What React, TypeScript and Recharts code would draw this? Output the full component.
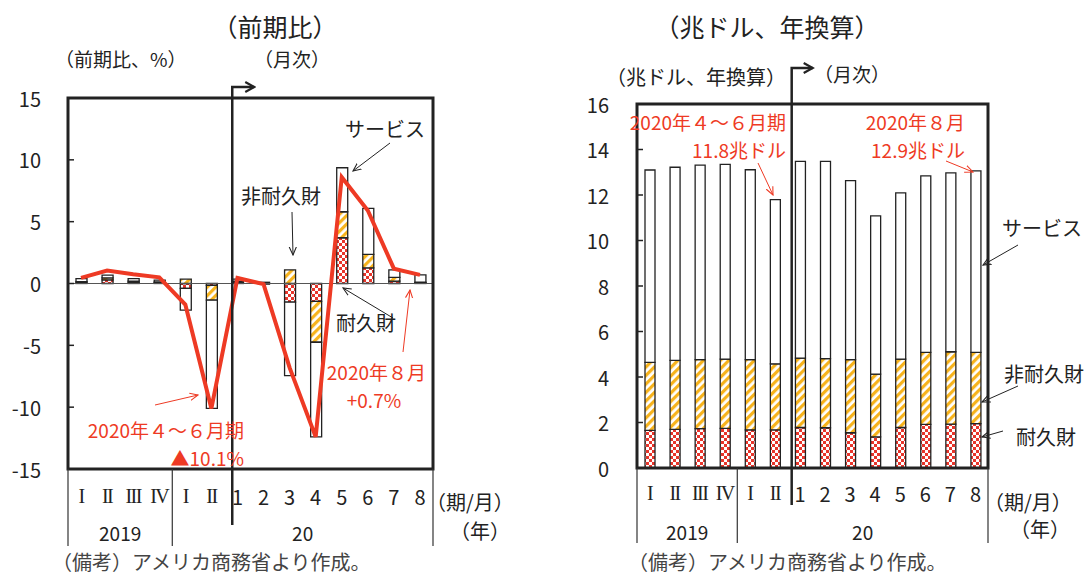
import React from 'react';
import { ComposedChart, Bar, Line, XAxis, YAxis, ReferenceLine } from 'recharts';

// ---- data ----
const periodKeys = ['2019Q1', '2019Q2', '2019Q3', '2019Q4', '2020Q1', '2020Q2', '2020M1', '2020M2', '2020M3', '2020M4', '2020M5', '2020M6', '2020M7', '2020M8'];
const periodLabels = ['I', 'II', 'III', 'IV', 'I', 'II', '1', '2', '3', '4', '5', '6', '7', '8'];
const yearLabels = ['2019', '20'];

// 前期比 (%): contributions
const growthDurable = [0.05, 0.3, 0.1, 0.05, -0.4, -0.15, 0.1, -0.05, -1.5, -1.45, 3.7, 1.27, 0.2, 0.05];
const growthNondurable = [0.1, 0.15, 0.1, 0.07, 0.35, -1.2, 0.1, 0.05, 1.1, -3.3, 2.1, 1.08, 0.3, 0.05];
const growthServices = [0.25, 0.22, 0.2, 0.15, -1.75, -8.75, 0.15, 0.05, -5.95, -7.65, 3.56, 3.72, 0.6, 0.6];
const growthTotal = [0.45, 1.05, 0.75, 0.5, -1.7, -10.1, 0.45, -0.05, -6.8, -12.4, 8.6, 5.9, 1.2, 0.7];

// 兆ドル、年換算
const levelDurable = [1.65, 1.7, 1.73, 1.74, 1.68, 1.68, 1.78, 1.77, 1.55, 1.37, 1.78, 1.92, 1.93, 1.95];
const levelNondurable = [2.99, 3.03, 3.03, 3.05, 3.08, 2.9, 3.05, 3.04, 3.21, 2.76, 3.01, 3.16, 3.18, 3.13];
const levelServices = [8.46, 8.49, 8.55, 8.56, 8.35, 7.22, 8.65, 8.67, 7.87, 6.95, 7.3, 7.76, 7.86, 7.98];

const growthTicks = [-15, -10, -5, 0, 5, 10, 15];
const levelTicks = [0, 2, 4, 6, 8, 10, 12, 14, 16];

const growthData = periodKeys.map((k, i) => ({
  key: k,
  durable: growthDurable[i],
  nondurable: growthNondurable[i],
  services: growthServices[i],
  total: growthTotal[i],
}));
const levelData = periodKeys.map((k, i) => ({
  key: k,
  durable: levelDurable[i],
  nondurable: levelNondurable[i],
  services: levelServices[i],
}));

// ---- style ----
const FONT = '"Noto Sans CJK JP", "Noto Sans", sans-serif';
const SERIF = '"Liberation Serif", "DejaVu Serif", serif';
const RED = '#EE3A24';
const INK = '#222';

// layout
const L = { left: 68, top: 98, right: 433, bottom: 469 };
const R = { left: 637, top: 104, right: 988, bottom: 468 };
const bwL = (L.right - L.left) / 14;
const bwR = (R.right - R.left) / 14;

function yTick(inner: number) {
  return (props: any) => {
    const { x, y, payload } = props;
    return (
      <g>
        <text x={x} y={y} textAnchor="end" dominantBaseline="central" fontSize={20} fill={INK} fontFamily={FONT}>
          {payload.value}
        </text>
        <line x1={x + inner} x2={x + inner + 6} y1={y} y2={y} stroke={INK} strokeWidth={1.5} />
      </g>
    );
  };
}

function xTick(bw: number, rowDy: number, yearDy: number) {
  return (props: any) => {
    const { x, y, index } = props;
    const lab = periodLabels[index];
    const roman = index < 6;
    let year: string | null = null;
    if (index === 1) year = yearLabels[0];
    if (index === 8) year = yearLabels[1];
    return (
      <g>
        <text
          x={x}
          y={y + rowDy}
          textAnchor="middle"
          dominantBaseline="central"
          fontSize={20}
          fill={INK}
          fontFamily={roman ? SERIF : FONT}
          letterSpacing={roman ? -1.5 : 0}
        >
          {lab}
        </text>
        {year && (
          <text x={x + bw / 2} y={y + yearDy} textAnchor="middle" dominantBaseline="central" fontSize={19} fill={INK} fontFamily={FONT}>
            {year}
          </text>
        )}
      </g>
    );
  };
}

function Patterns({ p }: { p: string }) {
  return (
    <defs>
      <pattern id={`chk${p}`} patternUnits="userSpaceOnUse" width={6} height={6}>
        <rect x={0} y={0} width={6} height={6} fill="#fff" />
        <rect x={0} y={0} width={3} height={3} fill="#E8352B" />
        <rect x={3} y={3} width={3} height={3} fill="#E8352B" />
      </pattern>
      <pattern id={`hat${p}`} patternUnits="userSpaceOnUse" width={6} height={6} patternTransform="rotate(45)">
        <rect x={0} y={0} width={6} height={6} fill="#fff" />
        <rect x={0} y={0} width={3.2} height={6} fill="#F7B31C" />
      </pattern>
    </defs>
  );
}

function GrowthChart() {
  return (
    <ComposedChart
      width={544}
      height={576}
      data={growthData}
      stackOffset="sign"
      margin={{ top: L.top, right: 544 - L.right, bottom: 576 - L.bottom - 40, left: 0 }}
    >
      <Patterns p="L" />
      <XAxis dataKey="key" type="category" interval={0} tickLine={false} axisLine={false} tickSize={0} tickMargin={0} height={40} tick={xTick(bwL, 27, 63)} />
      <YAxis type="number" domain={[-15, 15]} ticks={growthTicks} interval={0} width={L.left} axisLine={false} tickLine={false} tickSize={0} tickMargin={27} tick={yTick(27)} />
      <ReferenceLine y={0} stroke="#555" strokeWidth={1} />
      <Bar dataKey="durable" stackId="g" fill="url(#chkL)" stroke={INK} strokeWidth={1.3} barSize={11} isAnimationActive={false} />
      <Bar dataKey="nondurable" stackId="g" fill="url(#hatL)" stroke={INK} strokeWidth={1.3} barSize={11} isAnimationActive={false} />
      <Bar dataKey="services" stackId="g" fill="#fff" stroke={INK} strokeWidth={1.3} barSize={11} isAnimationActive={false} />
      <Line dataKey="total" type="linear" stroke={RED} strokeWidth={4} dot={false} activeDot={false} isAnimationActive={false} />
    </ComposedChart>
  );
}

function LevelChart() {
  return (
    <ComposedChart
      width={544}
      height={576}
      data={levelData}
      margin={{ top: R.top, right: 544 - (R.right - 544), bottom: 576 - R.bottom - 40, left: 0 }}
    >
      <Patterns p="R" />
      <XAxis dataKey="key" type="category" interval={0} tickLine={false} axisLine={false} tickSize={0} tickMargin={0} height={40} tick={xTick(bwR, 25, 63)} />
      <YAxis type="number" domain={[0, 16]} ticks={levelTicks} interval={0} width={R.left - 544} axisLine={false} tickLine={false} tickSize={0} tickMargin={28} tick={yTick(28)} />
      <Bar dataKey="durable" stackId="l" fill="url(#chkR)" stroke={INK} strokeWidth={1.3} barSize={10} isAnimationActive={false} />
      <Bar dataKey="nondurable" stackId="l" fill="url(#hatR)" stroke={INK} strokeWidth={1.3} barSize={10} isAnimationActive={false} />
      <Bar dataKey="services" stackId="l" fill="#fff" stroke={INK} strokeWidth={1.3} barSize={10} isAnimationActive={false} />
    </ComposedChart>
  );
}

function T(props: any) {
  const { x, y, children, size = 18, color = INK, anchor = 'start', family = FONT } = props;
  return (
    <text x={x} y={y} fontSize={size} fill={color} textAnchor={anchor} dominantBaseline="central" fontFamily={family}>
      {children}
    </text>
  );
}

function Overlay() {
  const mL = L.left + 6.3 * bwL; // month section line (left)
  const mR = R.left + 6.17 * bwR; // month section line (right)
  const divL = L.left + 4 * bwL;
  const divR = R.left + 4 * bwR;
  return (
    <svg width={1088} height={576} style={{ position: 'absolute', left: 0, top: 0, pointerEvents: 'none' }}>
      <defs>
        <marker id="aK" viewBox="0 0 10 10" refX={9} refY={5} markerWidth={9} markerHeight={9} markerUnits="userSpaceOnUse" orient="auto">
          <path d="M0,1 L9,5 L0,9" fill="none" stroke={INK} strokeWidth={1.2} />
        </marker>
        <marker id="aR" viewBox="0 0 10 10" refX={9} refY={5} markerWidth={9} markerHeight={9} markerUnits="userSpaceOnUse" orient="auto">
          <path d="M0,1 L9,5 L0,9" fill="none" stroke={RED} strokeWidth={1.2} />
        </marker>
        <marker id="aB" viewBox="0 0 12 12" refX={10} refY={6} markerWidth={12} markerHeight={12} markerUnits="userSpaceOnUse" orient="auto">
          <path d="M1,1 L10,6 L1,11" fill="none" stroke={INK} strokeWidth={2.2} />
        </marker>
      </defs>

      {/* titles */}
      <T x={275} y={26} size={25} anchor="middle">（前期比）</T>
      <T x={767} y={26} size={25} anchor="middle">（兆ドル、年換算）</T>
      <T x={55} y={58} size={19}>（前期比、%）</T>
      <T x={254} y={58} size={19}>（月次）</T>
      <T x={606} y={76} size={20}>（兆ドル、年換算）</T>
      <T x={814} y={73} size={19}>（月次）</T>

      {/* boxes */}
      <rect x={L.left} y={L.top} width={L.right - L.left} height={L.bottom - L.top} fill="none" stroke={INK} strokeWidth={3} />
      <rect x={R.left} y={R.top} width={R.right - R.left} height={R.bottom - R.top} fill="none" stroke={INK} strokeWidth={3} />

      {/* axis dividers */}
      {[L.left, divL, L.right].map((x, i) => (
        <line key={'dl' + i} x1={x} x2={x} y1={L.bottom} y2={546} stroke="#333" strokeWidth={1.2} />
      ))}
      {[R.left, divR, R.right].map((x, i) => (
        <line key={'dr' + i} x1={x} x2={x} y1={R.bottom} y2={543} stroke="#333" strokeWidth={1.2} />
      ))}

      {/* month lines */}
      <polyline points={`${mL},525 ${mL},87 ${mL + 22},87`} fill="none" stroke={INK} strokeWidth={2.5} markerEnd="url(#aB)" />
      <polyline points={`${mR},505 ${mR},68 ${mR + 21},68`} fill="none" stroke={INK} strokeWidth={2.5} markerEnd="url(#aB)" />

      {/* left annotations */}
      <T x={345} y={128} size={20}>サービス</T>
      <line x1={390} y1={143} x2={353} y2={171} stroke={INK} strokeWidth={1} markerEnd="url(#aK)" />
      <T x={241} y={195} size={20}>非耐久財</T>
      <line x1={292} y1={212} x2={293} y2={255} stroke={INK} strokeWidth={1} markerEnd="url(#aK)" />
      <T x={336} y={322} size={20}>耐久財</T>
      <line x1={393} y1={318} x2={343} y2={288} stroke={INK} strokeWidth={1} markerEnd="url(#aK)" />
      <T x={426} y={371} size={19} color={RED} anchor="end">2020年８月</T>
      <T x={374} y={399} size={19} color={RED} anchor="middle">+0.7%</T>
      <line x1={403} y1={352} x2={410} y2={290} stroke={RED} strokeWidth={1} markerEnd="url(#aR)" />
      <T x={244} y={429} size={19} color={RED} anchor="end">2020年４～６月期</T>
      <T x={244} y={457} size={19} color={RED} anchor="end">▲10.1%</T>
      <line x1={155} y1={405} x2={198} y2={395} stroke={RED} strokeWidth={1} markerEnd="url(#aR)" />

      {/* right annotations */}
      <T x={786} y={121} size={19} color={RED} anchor="end">2020年４～６月期</T>
      <T x={786} y={149} size={19} color={RED} anchor="end">11.8兆ドル</T>
      <line x1={758} y1={163} x2={773} y2={195} stroke={RED} strokeWidth={1} markerEnd="url(#aR)" />
      <T x={965} y={121} size={19} color={RED} anchor="end">2020年８月</T>
      <T x={965} y={149} size={19} color={RED} anchor="end">12.9兆ドル</T>
      <line x1={946} y1={161} x2={973} y2={172} stroke={RED} strokeWidth={1} markerEnd="url(#aR)" />
      <T x={1002} y={227} size={20}>サービス</T>
      <line x1={1018} y1={245} x2={983} y2={265} stroke={INK} strokeWidth={1} markerEnd="url(#aK)" />
      <T x={1004} y={373} size={20}>非耐久財</T>
      <line x1={1018} y1={386} x2={982} y2={402} stroke={INK} strokeWidth={1} markerEnd="url(#aK)" />
      <T x={1016} y={436} size={20}>耐久財</T>
      <line x1={1003} y1={431} x2={982} y2={437} stroke={INK} strokeWidth={1} markerEnd="url(#aK)" />

      {/* axis unit labels */}
      <T x={426} y={501} size={20}>（期/月）</T>
      <T x={510} y={530} size={20} anchor="end">（年）</T>
      <T x={984} y={501} size={20}>（期/月）</T>
      <T x={1070} y={528} size={20} anchor="end">（年）</T>

      {/* notes */}
      <T x={52} y={561} size={20} color="#444">（備考）アメリカ商務省より作成。</T>
      <T x={628} y={561} size={20} color="#444">（備考）アメリカ商務省より作成。</T>
    </svg>
  );
}

export default function App() {
  return (
    <div style={{ position: 'absolute', left: 0, top: 0, width: 1088, height: 576, background: '#fff', overflow: 'hidden' }}>
      <div style={{ position: 'absolute', left: 0, top: 0, width: 544, height: 576 }}>
        <GrowthChart />
      </div>
      <div style={{ position: 'absolute', left: 544, top: 0, width: 544, height: 576 }}>
        <LevelChart />
      </div>
      <Overlay />
    </div>
  );
}
